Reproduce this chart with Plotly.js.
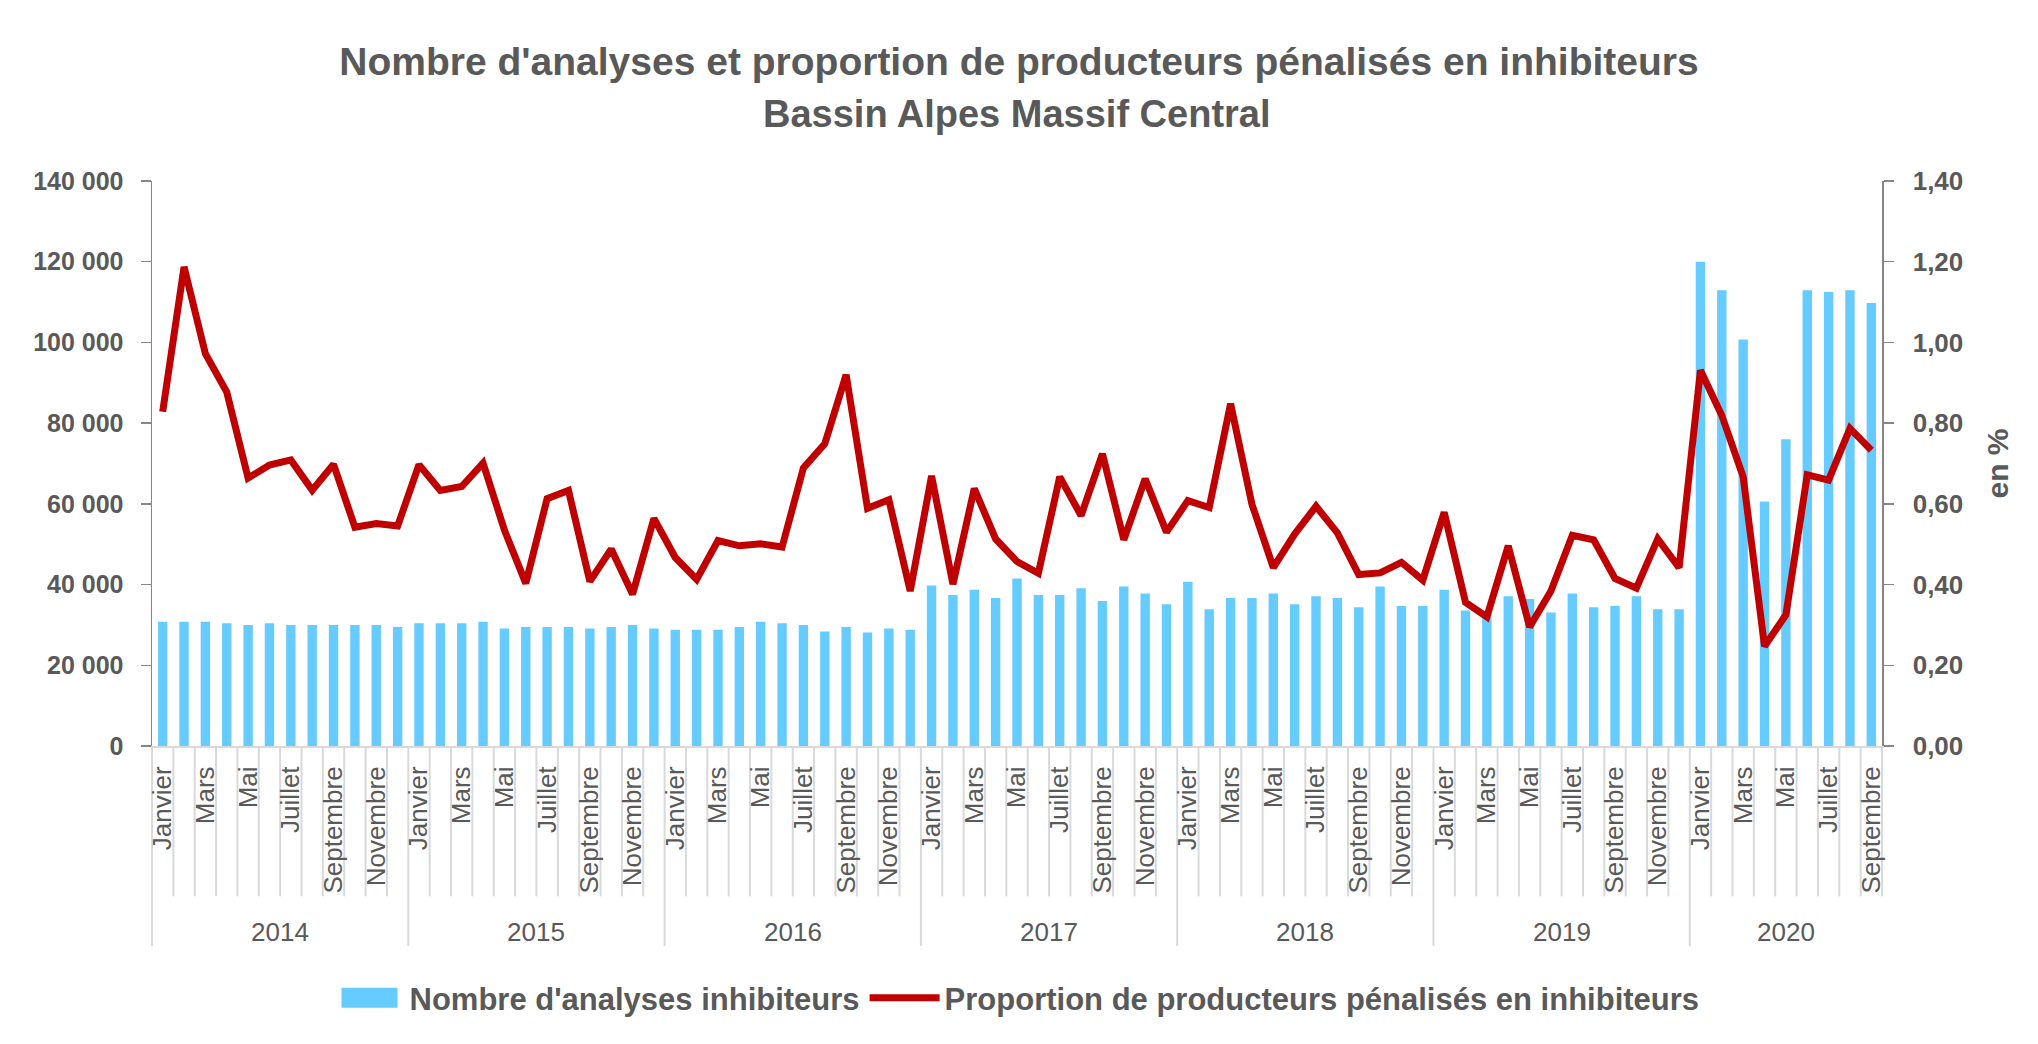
<!DOCTYPE html>
<html>
<head>
<meta charset="utf-8">
<script src="https://cdn.plot.ly/plotly-3.0.1.min.js"></script>
<style>
  html, body { margin: 0; padding: 0; background: #ffffff; }
  #chart { width: 2038px; height: 1044px; }
</style>
</head>
<body>
<div id="chart"></div>
<script>
// Data
const years = ['2014', '2015', '2016', '2017', '2018', '2019', '2020'];
const monthNames = ['Janvier', 'Février', 'Mars', 'Avril', 'Mai', 'Juin',
    'Juillet', 'Août', 'Septembre', 'Octobre', 'Novembre', 'Décembre'];
const monthsPerYear = [12, 12, 12, 12, 12, 12, 9];

const analyses = [
    30800, 30800, 30800, 30400, 30000, 30400, 30000, 30000, 30000, 30000, 30000, 29500,
    30400, 30400, 30400, 30800, 29100, 29500, 29500, 29500, 29100, 29500, 30000, 29100,
    28800, 28800, 28800, 29500, 30800, 30400, 30000, 28400, 29500, 28100, 29100, 28800,
    39800, 37400, 38700, 36700, 41500, 37400, 37400, 39100, 35900, 39500, 37800, 35100,
    40700, 33900, 36700, 36700, 37800, 35100, 37100, 36700, 34400, 39500, 34700, 34700,
    38700, 33600, 33300, 37100, 36400, 33100, 37800, 34400, 34700, 37100, 33900, 33900,
    120000, 112900, 100700, 60600, 76000, 112900, 112500, 112900, 109800
];

const proportion = [
    0.828, 1.187, 0.972, 0.877, 0.664, 0.696, 0.709, 0.634, 0.698, 0.542, 0.551, 0.545,
    0.697, 0.633, 0.643, 0.701, 0.535, 0.403, 0.613, 0.633, 0.408, 0.488, 0.376, 0.564,
    0.467, 0.413, 0.509, 0.496, 0.501, 0.493, 0.689, 0.749, 0.920, 0.589, 0.610, 0.384,
    0.669, 0.401, 0.638, 0.513, 0.457, 0.428, 0.667, 0.571, 0.724, 0.511, 0.662, 0.530,
    0.608, 0.591, 0.848, 0.599, 0.442, 0.525, 0.594, 0.528, 0.425, 0.429, 0.455, 0.411,
    0.579, 0.356, 0.320, 0.496, 0.295, 0.384, 0.522, 0.511, 0.415, 0.391, 0.513, 0.442,
    0.931, 0.819, 0.667, 0.247, 0.325, 0.672, 0.659, 0.787, 0.733
];

const titleLines = ["Nombre d'analyses et proportion de producteurs pénalisés en inhibiteurs",
    'Bassin Alpes Massif Central'];

const gray = '#595959';
const fontFamily = '"Liberation Sans", Arial, sans-serif';

// Build x positions (one slot per month) and the month tick labels
const x = [];
const tickvals = [];
const ticktext = [];
const yearStart = [];
let idx = 0;
years.forEach((yr, y) => {
    yearStart.push(idx);
    for (let m = 0; m < monthsPerYear[y]; m++) {
        x.push(idx);
        if (m % 2 === 0) {
            tickvals.push(idx);
            ticktext.push(monthNames[m]);
        }
        idx++;
    }
});
const n = x.length;

// Category separators below the axis (Excel style)
const shapes = [];
const monthDepth = -0.266;
const yearDepth = -0.354;
for (let b = 0; b <= n; b++) {
    const isYear = yearStart.includes(b);
    shapes.push({
        type: 'line', xref: 'paper', yref: 'paper',
        x0: b / n, x1: b / n,
        y0: 0, y1: isYear ? yearDepth : monthDepth,
        line: { color: '#d9d9d9', width: 2 },
        layer: 'below'
    });
}

// Year labels centred under each group
const annotations = years.map((yr, y) => ({
    x: yearStart[y] + (monthsPerYear[y] - 1) / 2,
    xref: 'x', yref: 'paper',
    y: -0.33, yanchor: 'middle',
    text: yr, showarrow: false,
    font: { family: fontFamily, size: 26, color: gray }
}));

// second title line
annotations.push({
    x: 0.5, xref: 'paper', xanchor: 'center',
    y: 1.118, yref: 'paper', yanchor: 'middle',
    text: titleLines[1], showarrow: false,
    font: { family: fontFamily, size: 38, color: gray, weight: 'bold' }
});

const traces = [
    {
        x: x, y: analyses,
        type: 'bar',
        name: "Nombre d'analyses inhibiteurs",
        marker: { color: '#66CCFF' },
        yaxis: 'y'
    },
    {
        x: x, y: proportion,
        type: 'scatter', mode: 'lines',
        name: 'Proportion de producteurs pénalisés en inhibiteurs',
        line: { color: '#C00000', width: 7 },
        yaxis: 'y2'
    }
];

const layout = {
    width: 2038, height: 1044,
    paper_bgcolor: '#ffffff',
    plot_bgcolor: '#ffffff',
    separators: ', ',
    font: { family: fontFamily, color: gray },
    margin: { l: 152, r: 156, t: 181, b: 298 },
    title: {
        text: titleLines[0],
        font: { family: fontFamily, size: 39, color: gray, weight: 'bold' },
        x: 0.5, xanchor: 'center',
        y: 1 - 61 / 1044, yanchor: 'middle', yref: 'container'
    },
    bargap: 0.56,
    showlegend: true,
    legend: {
        orientation: 'h',
        x: 0.5, xanchor: 'center',
        y: -0.446, yanchor: 'middle',
        font: { family: fontFamily, size: 31, color: gray, weight: 'bold' },
        traceorder: 'normal',
        itemwidth: 70
    },
    xaxis: {
        type: 'linear',
        range: [-0.5, n - 0.5],
        tickmode: 'array',
        tickvals: tickvals,
        ticktext: ticktext,
        tickangle: -90,
        ticks: '',
        ticklabelstandoff: 8,
        tickfont: { family: fontFamily, size: 26, color: gray },
        showgrid: false,
        zeroline: false,
        showline: true,
        linecolor: '#d9d9d9',
        linewidth: 2
    },
    yaxis: {
        range: [0, 140000],
        dtick: 20000,
        tickformat: ',d',
        ticks: 'outside', ticklen: 10, tickcolor: '#868686', tickwidth: 1.5,
        ticklabelstandoff: 12,
        tickfont: { family: fontFamily, size: 25, color: gray, weight: 'bold' },
        showgrid: false, zeroline: false,
        showline: true, linecolor: '#868686', linewidth: 1.5
    },
    yaxis2: {
        overlaying: 'y', side: 'right',
        range: [0, 1.4],
        dtick: 0.2,
        tickformat: '.2f',
        ticks: 'outside', ticklen: 10, tickcolor: '#868686', tickwidth: 1.5,
        ticklabelstandoff: 14,
        tickfont: { family: fontFamily, size: 26, color: gray, weight: 'bold' },
        showgrid: false, zeroline: false,
        showline: true, linecolor: '#868686', linewidth: 1.5,
        title: {
            text: 'en %',
            standoff: 24,
            font: { family: fontFamily, size: 30, color: gray, weight: 'bold' }
        }
    },
    shapes: shapes,
    annotations: annotations
};

Plotly.newPlot('chart', traces, layout, { displayModeBar: false, staticPlot: true }).then(gd => {
    // Excel draws the bar legend key as a wide rectangle
    const keys = gd.querySelectorAll('.legend .traces');
    if (keys.length) {
        const p = keys[0].querySelector('.legendpoints path');
        if (p) p.setAttribute('d', 'M-28,10H28V-10H-28Z');
    }
});
</script>
</body>
</html>
